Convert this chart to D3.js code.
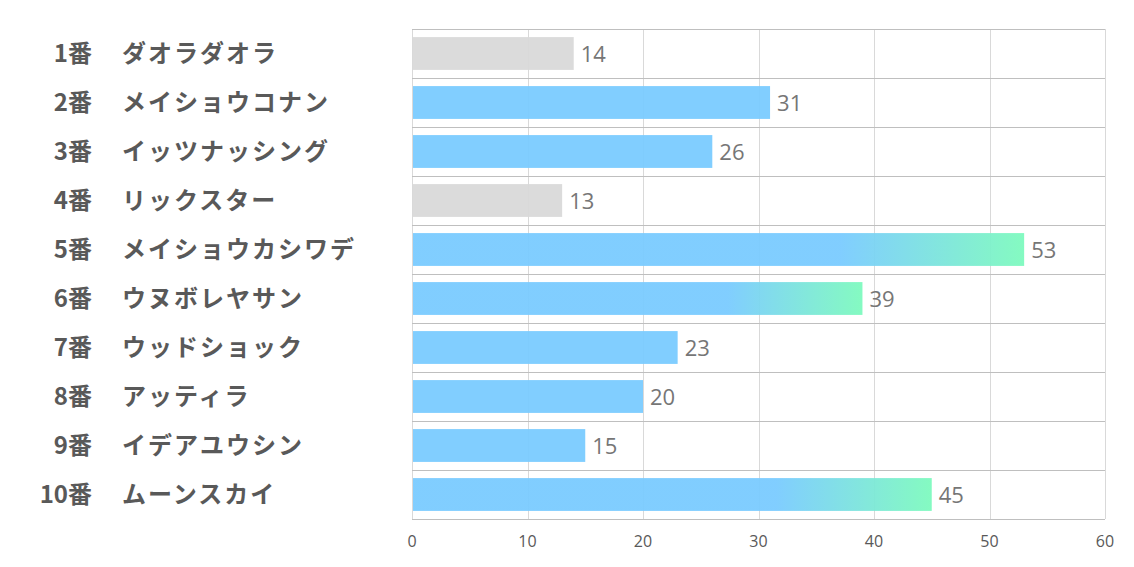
<!DOCTYPE html>
<html><head><meta charset="utf-8">
<script src="https://cdn.jsdelivr.net/npm/d3@7"></script>
<style>body{margin:0;background:#fff;}svg{display:block;}</style>
</head><body>
<svg id="c" width="1134" height="567"></svg>
<script>
const numbers = ["1番","2番","3番","4番","5番","6番","7番","8番","9番","10番"];
const names = ["ダオラダオラ","メイショウコナン","イッツナッシング","リックスター","メイショウカシワデ","ウヌボレヤサン","ウッドショック","アッティラ","イデアユウシン","ムーンスカイ"];
const values = [14,31,26,13,53,39,23,20,15,45];
const barKind = ["gray","blue","blue","gray","grad","grad","blue","blue","blue","grad"];
const xTicks = [0,10,20,30,40,50,60];

const svg = d3.select("#c");
const pLeft = 412, pRight = 1105, pTop = 29, pBottom = 519;
const x = d3.scaleLinear().domain([0,60]).range([pLeft,pRight]);
const y = d3.scaleBand().domain(d3.range(values.length)).range([pTop,pBottom]).paddingInner(0.33).paddingOuter(0.165);

const defs = svg.append("defs");
const g = defs.append("linearGradient").attr("id","gr").attr("x1","0").attr("x2","1").attr("y1","0").attr("y2","0");
g.append("stop").attr("offset","0.70").attr("stop-color","#7ACBFF");
g.append("stop").attr("offset","1").attr("stop-color","#7EFABE");

// vertical gridlines
svg.append("g").selectAll("line").data(xTicks).join("line")
  .attr("x1",d=>Math.round(x(d))+0.5).attr("x2",d=>Math.round(x(d))+0.5).attr("y1",pTop).attr("y2",pBottom)
  .attr("stroke","#d9d9d9").attr("stroke-width",1);

// bars
svg.append("g").selectAll("rect").data(values).join("rect")
  .attr("x",x(0)+1).attr("y",(d,i)=>y(i)).attr("height",y.bandwidth())
  .attr("width",d=>x(d)-x(0)-1)
  .attr("fill",(d,i)=>barKind[i]==="gray"?"#D9D9D9":(barKind[i]==="grad"?"url(#gr)":"#7ACBFF"))
  .attr("opacity",0.95);

// horizontal row lines
const bounds = d3.range(values.length+1).map(i=>pTop + i*(pBottom-pTop)/values.length);
svg.append("g").selectAll("line").data(bounds).join("line")
  .attr("x1",pLeft).attr("x2",pRight).attr("y1",d=>Math.round(d)+0.5).attr("y2",d=>Math.round(d)+0.5)
  .attr("stroke","#bfbfbf").attr("stroke-width",1);

// value labels
svg.append("g").selectAll("text").data(values).join("text")
  .attr("x",d=>x(d)+7).attr("y",(d,i)=>y(i)+y.bandwidth()/2-1)
  .attr("dominant-baseline","central")
  .attr("font-family","'Open Sans','Noto Sans',sans-serif").attr("font-size",22)
  .attr("fill","#767676").text(d=>d);

// x axis tick labels
svg.append("g").selectAll("text").data(xTicks).join("text")
  .attr("x",d=>x(d)).attr("y",541).attr("text-anchor","middle").attr("dominant-baseline","central")
  .attr("font-family","'Open Sans','Noto Sans',sans-serif").attr("font-size",16)
  .attr("fill","#595959").text(d=>d);

// category labels
const lab = svg.append("g").attr("font-family","'Noto Sans CJK JP',sans-serif").attr("font-weight","bold")
  .attr("font-size",24).attr("fill","#595959");
lab.selectAll("text.n").data(numbers).join("text").attr("class","n")
  .attr("x",92).attr("y",(d,i)=>y(i)+y.bandwidth()/2-2).attr("text-anchor","end")
  .attr("dominant-baseline","central").text(d=>d);
lab.selectAll("text.m").data(names).join("text").attr("class","m")
  .attr("x",122).attr("y",(d,i)=>y(i)+y.bandwidth()/2-2).attr("text-anchor","start")
  .attr("letter-spacing",2)
  .attr("dominant-baseline","central").text(d=>d);
</script>
</body></html>
